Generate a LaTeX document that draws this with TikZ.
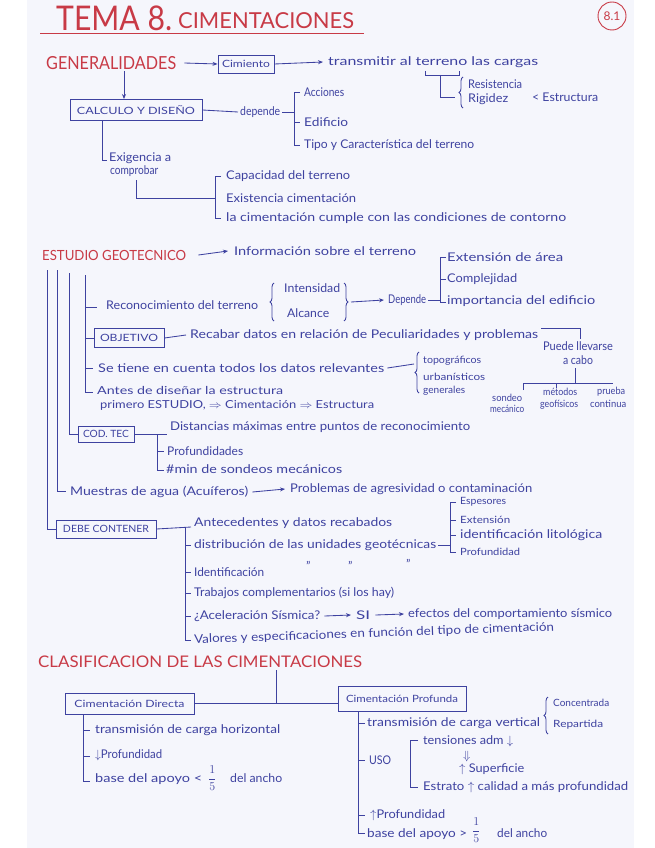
\documentclass[tikz,border=0pt]{standalone}
\usepackage{fontspec}
\setmainfont{Lato}
\usepackage{graphicx}
\usetikzlibrary{arrows.meta,decorations.pathreplacing}
\definecolor{inkc}{RGB}{62,66,160}
\definecolor{redc}{RGB}{200,58,70}
\definecolor{paper}{RGB}{245,246,252}
\newcommand\fw[2]{\resizebox{#1pt}{\height}{#2}}
\begin{document}
\begin{tikzpicture}[x=1pt,y=-1pt,
 ln/.style={draw=inkc,line width=0.85pt},
 arr/.style={ln,-{Stealth[length=5pt,width=4pt]}},
 bx/.style={draw=inkc,line width=0.9pt,inner sep=0pt,text=inkc,font=\fontsize{10}{11}\selectfont},
 tx/.style={anchor=west,inner sep=0pt,text=inkc,font=\fontsize{12}{13}\selectfont},
 sm/.style={tx,font=\fontsize{10}{11}\selectfont},
 rd/.style={anchor=west,inner sep=0pt,text=redc},
 br/.style={ln,decorate,decoration={brace,amplitude=4pt}}]
\useasboundingbox (0,0) rectangle (655,848);
\fill[white] (0,0) rectangle (655,848);
\fill[paper] (27,0) rectangle (634,848);

% title
\node[rd,font=\fontsize{34}{36}\selectfont] (tema) at (56,18) {\fw{116}{TEMA 8.}};
\node[rd,font=\fontsize{22}{24}\selectfont] (cimt) at (178,21) {\fw{176}{CIMENTACIONES}};
\draw[redc,line width=0.9pt] (40,33) -- (364,33);
\node[circle,draw=redc,line width=0.9pt,minimum size=28pt,inner sep=0pt,text=redc,font=\fontsize{12}{12}\selectfont] (pag) at (612,16) {8.1};

% GENERALIDADES
\node[rd,font=\fontsize{18}{20}\selectfont] (gen) at (46,63) {\fw{130}{GENERALIDADES}};
\node[bx,minimum width=56pt,minimum height=18pt] (cim) at (246,64) {\fw{48}{Cimiento}};
\draw[arr] ([xshift=8pt]gen.east) -- (cim.west);
\node[tx] (trans) at (328,62) {\fw{210}{transmitir al terreno las cargas}};
\draw[arr] (cim.east) -- ([xshift=-5pt]trans.west);
\coordinate (ter1) at (425,71);
\coordinate (ter2) at (459,71);
\coordinate (term) at (440,75);
\coordinate (rr) at (455,97);
\draw[ln] (ter1) -- (425,75) -- (459,75) -- (ter2);
\draw[ln] (term) -- (term |- rr) -- (rr);
\draw[br] (463,108) -- (463,77);
\node[tx] (res) at (468,84) {\fw{54}{Resistencia}};
\node[tx] (rig) at (468,99) {\fw{40}{Rigidez}};
\node[tx] (estr) at (532,97) {\fw{66}{< Estructura}};

% CALCULO
\node[bx,minimum width=132pt,minimum height=21pt] (calc) at (136,110) {\fw{118}{CALCULO Y DISEÑO}};
\coordinate (g1) at (124,71);
\draw[arr] (g1) -- (g1 |- calc.north);
\node[tx] (dep) at (240,112) {\fw{40}{depende}};
\draw[ln] (calc.east) -- ([xshift=-2pt]dep.west);
\coordinate (ba1) at (294,92);
\coordinate (ba2) at (294,145);
\draw[ln] ([xshift=2pt]dep.east) -- (294,112);
\draw[ln] (300,92) -- (ba1) -- (ba2) -- (300,145);
\draw[ln] (294,122) -- (300,122);
\node[tx] (acc) at (304,92) {\fw{40}{Acciones}};
\node[tx] (edi) at (304,122) {\fw{44}{Edificio}};
\node[tx] (tipo) at (304,145) {\fw{170}{Tipo y Característica del terreno}};

% Exigencia
\coordinate (ex0) at (102,120);
\draw[ln] (ex0 |- calc.south) -- (102,160) -- (107,160);
\node[tx] (exi) at (109,158) {\fw{62}{Exigencia a}};
\node[tx] (com) at (110,171) {\fw{48}{comprobar}};
\coordinate (ex1) at (136,180);
\coordinate (ex2) at (215,198);
\draw[ln] (ex1) -- (ex1 |- ex2) -- (ex2);
\draw[ln] (221,176) -- (215,176) -- (215,218) -- (221,218);
\node[tx] (cap) at (226,176) {\fw{124}{Capacidad del terreno}};
\node[tx] (exis) at (226,198) {\fw{130}{Existencia cimentación}};
\node[tx] (cump) at (226,218) {\fw{340}{la cimentación cumple con las condiciones de contorno}};

% ESTUDIO GEOTECNICO
\node[rd,font=\fontsize{14}{16}\selectfont] (estu) at (42,255) {\fw{144}{ESTUDIO GEOTECNICO}};
\node[tx] (info) at (234,251) {\fw{182}{Información sobre el terreno}};
\draw[arr] ([xshift=12pt]estu.east) -- ([xshift=-6pt]info.west);
\draw[ln] (446,257) -- (440,257) -- (440,302) -- (446,302);
\draw[ln] (440,279) -- (446,279);
\node[tx] (ext) at (447,257) {\fw{116}{Extensión de área}};
\node[tx] (cpl) at (447,279) {\fw{70}{Complejidad}};
\node[tx] (imp) at (447,301) {\fw{148}{importancia del edificio}};
\node[tx] (dep2) at (388,300) {\fw{38}{Depende}};
\draw[ln] ([xshift=2pt]dep2.east) -- (440,300);
\node[tx] (reco) at (106,305) {\fw{152}{Reconocimiento del terreno}};
\draw[br] (274,321) -- (274,283);
\node[tx] (inte) at (284,288) {\fw{56}{Intensidad}};
\node[tx] (alc) at (287,313) {\fw{42}{Alcance}};
\draw[br] (344,283) -- (344,321);
\draw[arr] (351,302) -- ([xshift=-4pt]dep2.west);

% OBJETIVO
\node[bx,minimum width=70pt,minimum height=19pt] (obj) at (129,338) {\fw{58}{OBJETIVO}};
\node[tx] (reca) at (190,335) {\fw{348}{Recabar datos en relación de Peculiaridades y problemas}};
\draw[ln] (obj.east) -- ([xshift=-4pt]reca.west);
\coordinate (pl1) at (541,328);
\coordinate (pl2) at (580,339);
\draw[ln] (pl1) -- (pl1 -| pl2) -- (pl2);
\node[tx,anchor=north,align=center] (pue) at (578,341) {\fw{70}{Puede llevarse}\\[1pt]\fw{30}{a cabo}};
\coordinate (pc1) at (575,368);
\coordinate (pc2) at (575,383);
\draw[ln] (pc1) -- (pc2);
\draw[ln] (523,390) -- (523,383) -- (613,383);
\draw[ln] (556,383) -- (556,388);
\node[sm] (son) at (492,398) {\fw{30}{sondeo}};
\node[sm] (mec) at (490,409) {\fw{34}{mecánico}};
\node[sm] (met) at (543,392) {\fw{34}{métodos}};
\node[sm] (geo) at (540,405) {\fw{38}{geofísicos}};
\node[sm] (pru) at (597,392) {\fw{28}{prueba}};
\node[sm] (con) at (590,404) {\fw{36}{continua}};

\node[tx] (setie) at (98,368) {\fw{286}{Se tiene en cuenta todos los datos relevantes}};
\draw[ln] ([xshift=3pt]setie.east) -- (414,364);
\draw[br] (419,393) -- (419,352);
\node[sm] (topo) at (423,361) {\fw{58}{topográficos}};
\node[sm] (urb) at (423,377) {\fw{62}{urbanísticos}};
\node[sm] (genr) at (423,391) {\fw{42}{generales}};
\node[tx,font=\fontsize{11}{12}\selectfont] (antes) at (97,390) {\fw{186}{Antes de diseñar la estructura}};
\node[tx,font=\fontsize{11}{12}\selectfont] (prim) at (100,405) {\fw{274}{primero ESTUDIO, $\Rightarrow$ Cimentación $\Rightarrow$ Estructura}};

% COD TEC
\node[bx,minimum width=56pt,minimum height=16pt] (cdd) at (106,434) {\fw{46}{COD. TEC}};
\draw[ln] (cdd.east) -- (167,434);
\draw[ln] (157,434) -- (157,470) -- (164,470);
\draw[ln] (157,451) -- (164,451);
\node[tx] (dist) at (170,427) {\fw{300}{Distancias máximas entre puntos de reconocimiento}};
\node[tx] (prof) at (167,451) {\fw{76}{Profundidades}};
\node[tx] (nmin) at (166,469) {\fw{176}{\#min de sondeos mecánicos}};

% Muestras
\node[tx] (mues) at (70,492) {\fw{178}{Muestras de agua (Acuíferos)}};
\node[tx] (prob) at (290,489) {\fw{242}{Problemas de agresividad o contaminación}};
\draw[arr] ([xshift=4pt]mues.east) -- ([xshift=-5pt]prob.west);

% DEBE CONTENER
\node[bx,minimum width=100pt,minimum height=18pt] (debe) at (106,529) {\fw{86}{DEBE CONTENER}};
\draw[ln] (debe.east) -- (191,527);
\draw[ln] (185,527) -- (185,640) -- (191,640);
\foreach \yy in {545,572,593,616} {\draw[ln] (185,\yy) -- (191,\yy);}
\node[tx] (ante) at (194,523) {\fw{198}{Antecedentes y datos recabados}};
\node[tx] (distr) at (194,545) {\fw{242}{distribución de las unidades geotécnicas}};
\draw[ln] ([xshift=2pt]distr.east) -- (450,545);
\draw[ln] (456,502) -- (450,502) -- (450,552) -- (456,552);
\draw[ln] (450,520) -- (456,520);
\draw[ln] (450,535) -- (456,535);
\node[sm] (esp) at (460,502) {\fw{46}{Espesores}};
\node[sm] (exte) at (460,520) {\fw{50}{Extensión}};
\node[tx] (idl) at (460,535) {\fw{142}{identificación litológica}};
\node[sm] (prf) at (460,552) {\fw{60}{Profundidad}};
\node[tx] (iden) at (194,572) {\fw{70}{Identificación}};
\node[tx] (d1) at (306,566) {''};
\node[tx] (d2) at (348,566) {''};
\node[tx] (d3) at (406,564) {''};
\node[tx] (trab) at (194,593) {\fw{200}{Trabajos complementarios (si los hay)}};
\node[tx] (acel) at (194,616) {\fw{126}{¿Aceleración Sísmica?}};
\node[tx] (si) at (356,615) {\fw{14}{SI}};
\node[tx] (efe) at (408,614) {\fw{204}{efectos del comportamiento sísmico}};
\draw[arr] ([xshift=4pt]acel.east) -- ([xshift=-5pt]si.west);
\draw[arr] ([xshift=5pt]si.east) -- ([xshift=-4pt]efe.west);
\node[tx,rotate=2] (valo) at (194,640) {\fw{360}{Valores y especificaciones en función del tipo de cimentación}};

% left spine lines
\draw[ln] (47,270) -- (47,529) -- (debe.west);
\draw[ln] (57,270) -- (57,491) -- (66,491);
\draw[ln] (69,273) -- (69,434) -- (cdd.west);
\draw[ln] (85,275) -- (85,392) -- (93,392);
\draw[ln] (85,307) -- (97,307);
\draw[ln] (85,338) -- (obj.west);
\draw[ln] (85,368) -- (93,368);

% CLASIFICACION
\node[rd,font=\fontsize{16}{18}\selectfont] (clas) at (38,662) {\fw{324}{CLASIFICACION DE LAS CIMENTACIONES}};
\node[bx,minimum width=129pt,minimum height=21pt] (dir) at (129.5,703.5) {\fw{110}{Cimentación Directa}};
\node[bx,minimum width=128pt,minimum height=25pt] (pro) at (402,698.5) {\fw{112}{Cimentación Profunda}};
\draw[ln] (dir.east) -- (dir.east -| pro.west);
\coordinate (cl1) at (276,670);
\draw[ln] (cl1) -- (cl1 |- dir.east);

% Directa
\coordinate (ds) at (83,714);
\draw[ln] (ds) -- (83,781) -- (90,781);
\draw[ln] (83,730) -- (90,730);
\draw[ln] (83,756) -- (90,756);
\node[tx] (thor) at (95,730) {\fw{185}{transmisión de carga horizontal}};
\node[tx] (dprof) at (95,755) {\fw{67}{$\downarrow$Profundidad}};
\node[tx] (dbase) at (95,779) {\fw{107}{base del apoyo <}};
\node[tx] (dfr) at (208,778) {$\displaystyle\frac{1}{5}$};
\node[tx] (danc) at (230,778) {\fw{52}{del ancho}};

% Profunda
\coordinate (ps) at (358,711);
\draw[ln] (ps) -- (358,833) -- (365,833);
\foreach \yy in {723,760,815} {\draw[ln] (358,\yy) -- (365,\yy);}
\node[tx] (tver) at (367,723) {\fw{173}{transmisión de carga vertical}};
\draw[br] (548,734) -- (548,697);
\node[sm] (conc) at (553,703) {\fw{56}{Concentrada}};
\node[sm] (rep) at (553,725) {\fw{50}{Repartida}};
\node[tx] (uso) at (369,760) {\fw{22}{USO}};
\draw[ln] (418,740) -- (410,740) -- (410,787) -- (418,787);
\node[tx] (tens) at (423,741) {\fw{90}{tensiones adm $\downarrow$}};
\node[tx] (dd) at (463,756) {$\Downarrow$};
\node[tx] (sup) at (459,769) {\fw{65}{$\uparrow$ Superficie}};
\node[tx] (estra) at (423,787) {\fw{205}{Estrato $\uparrow$ calidad a más profundidad}};
\node[tx] (pprof) at (370,815) {\fw{75}{$\uparrow$Profundidad}};
\node[tx] (pbase) at (367,834) {\fw{100}{base del apoyo >}};
\node[tx] (pfr) at (472,830) {$\displaystyle\frac{1}{5}$};
\node[tx] (panc) at (497,833) {\fw{50}{del ancho}};
\end{tikzpicture}
\end{document}
